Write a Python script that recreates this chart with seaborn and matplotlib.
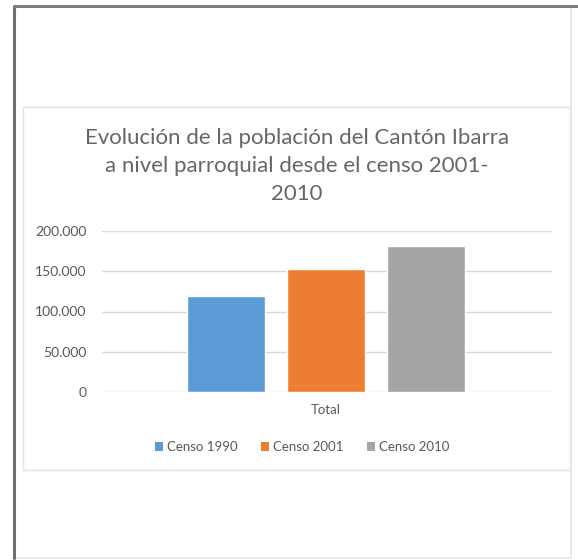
import numpy as np
import pandas as pd
import matplotlib
matplotlib.use("Agg")
import matplotlib.pyplot as plt
import seaborn as sns
from matplotlib.patches import Rectangle, Patch
from matplotlib.ticker import FuncFormatter

# Data
categories = ["Total"]
series_names = ["Censo 1990", "Censo 2001", "Censo 2010"]
series_values = [119243, 153256, 181175]
series_colors = ["#5B9BD5", "#ED7D31", "#A5A5A5"]
yticks = [0, 50000, 100000, 150000, 200000]
title_lines = ["Evolución de la población del Cantón Ibarra",
               "a nivel parroquial desde el censo 2001-",
               "2010"]

df = pd.DataFrame({
    "cat": categories * len(series_names),
    "serie": series_names,
    "value": series_values,
})

sns.set_theme(style="white")
plt.rcParams["font.family"] = ["Lato", "DejaVu Sans"]
text_col = "#595959"

W, H = 578, 560
fig = plt.figure(figsize=(W / 100, H / 100), dpi=100)
fig.patch.set_facecolor("white")


def px(x, y):
    # pixel coords (top-left origin) -> figure fraction
    return x / W, 1 - y / H


# outer frame of the screenshot
fig.add_artist(Rectangle(px(14, 558), (571 - 14) / W, (558 - 6) / H,
                         transform=fig.transFigure, fill=False,
                         edgecolor="#E6E6E6", lw=1.2))
fig.add_artist(plt.Line2D([14 / W, 14 / W], [1 - 558 / H, 1 - 6 / H],
                          transform=fig.transFigure, color="#707070", lw=2.2))
fig.add_artist(plt.Line2D([14 / W, 578 / W], [1 - 6 / H, 1 - 6 / H],
                          transform=fig.transFigure, color="#808080", lw=2.2))
# chart area frame
fig.add_artist(Rectangle(px(23, 470), (570 - 23) / W, (470 - 107) / H,
                         transform=fig.transFigure, fill=False,
                         edgecolor="#E3E3E3", lw=1.0))

l, b = px(102, 392)
r, t = px(552, 231)
ax = fig.add_axes([l, b, r - l, t - b])

sns.barplot(data=df, x="cat", y="value", hue="serie", palette=series_colors,
            gap=0.22, saturation=1, ax=ax, legend=False)

ax.set_ylim(0, 200000)
ax.set_xlim(-0.597, 0.603)
ax.set_yticks(yticks)
ax.yaxis.set_major_formatter(FuncFormatter(lambda v, p: f"{int(v):,}".replace(",", ".")))
ax.grid(axis="y", color="#D9D9D9", lw=1.0)
ax.set_axisbelow(True)
for s in ax.spines.values():
    s.set_visible(False)
ax.tick_params(axis="y", length=0, pad=11, labelsize=10, labelcolor=text_col)
ax.tick_params(axis="x", length=0, pad=9, labelsize=9.5, labelcolor=text_col)
ax.set_xlabel("")
ax.set_ylabel("")

# title
for i, line in enumerate(title_lines):
    x, y = px(297, 138 + 28 * i)
    fig.text(x, y, line, ha="center", va="center", fontsize=16, color="#666666")

# legend
handles = [Patch(facecolor=c, edgecolor="none") for c in series_colors]
lx, ly = px(302, 447)
fig.legend(handles, series_names, loc="center", bbox_to_anchor=(lx, ly),
           ncol=3, frameon=False, fontsize=9.5, labelcolor=text_col,
           handlelength=0.6, handleheight=0.6, handletextpad=0.3,
           columnspacing=1.8)

fig.savefig("out.png", dpi=100, facecolor="white")
